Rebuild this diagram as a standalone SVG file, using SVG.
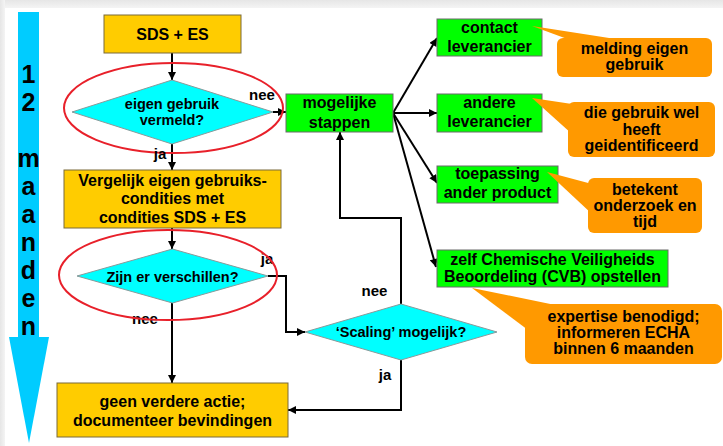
<svg xmlns="http://www.w3.org/2000/svg" width="723" height="446" viewBox="0 0 723 446">
<style>
text{font-family:"Liberation Sans",Arial,sans-serif;font-weight:bold;fill:#000;text-anchor:middle}
.y{fill:#FFCC00;stroke:#7a6a3a;stroke-width:1}
.g{fill:#00FF00;stroke:#6a6a6a;stroke-width:1}
.d{fill:#00FFFF;stroke:#8a9a9a;stroke-width:1}
.o{fill:#FF9900}
.ell{fill:none;stroke:#E8202A;stroke-width:2}
.c{fill:none;stroke:#000;stroke-width:2}
.t16{font-size:16px}
.t15{font-size:15px}
.t14{font-size:14.5px}
.lab{font-size:15px}
.mo{font-size:25px}
</style>
<defs>
<linearGradient id="topg" x1="0" y1="0" x2="0" y2="1"><stop offset="0" stop-color="#e6e6e6"/><stop offset="1" stop-color="#f4f4f4"/></linearGradient>
<linearGradient id="leftg" x1="0" y1="0" x2="1" y2="0"><stop offset="0" stop-color="#e6e6e6"/><stop offset="1" stop-color="#f4f4f4"/></linearGradient>
<marker id="ah" markerUnits="userSpaceOnUse" markerWidth="9" markerHeight="8" viewBox="0 0 10 10" refX="10" refY="5" orient="auto"><path d="M0,0 L10,5 L0,10 z" fill="#000"/></marker>
</defs>
<rect x="0" y="0" width="723" height="446" fill="#fff"/>
<rect x="0" y="0" width="723" height="8" fill="url(#topg)"/>
<rect x="0" y="0" width="5" height="446" fill="url(#leftg)"/>

<g id="time-arrow">
<rect x="18" y="12" width="21" height="326" fill="#00CCFF"/>
<polygon points="9,337 49,337 29,443" fill="#00CCFF"/>
<text class="mo" x="28.5" y="83">1</text>
<text class="mo" x="28.5" y="111">2</text>
<text class="mo" x="28.5" y="167">m</text>
<text class="mo" x="28.5" y="195">a</text>
<text class="mo" x="28.5" y="223">a</text>
<text class="mo" x="28.5" y="251">n</text>
<text class="mo" x="28.5" y="279">d</text>
<text class="mo" x="28.5" y="307">e</text>
<text class="mo" x="28.5" y="335">n</text>
</g>

<g id="connectors">
<path class="c" d="M172,53 V80" marker-end="url(#ah)"/>
<path class="c" d="M172,144 V170" marker-end="url(#ah)"/>
<path class="c" d="M172,228 V249" marker-end="url(#ah)"/>
<path class="c" d="M172,303 V383" marker-end="url(#ah)"/>
<path class="c" d="M268,276 H286 V332 H305" marker-end="url(#ah)"/>
<path class="c" d="M401,304 V218 H340 V132" marker-end="url(#ah)"/>
<path class="c" d="M401,360 V410 H288" marker-end="url(#ah)"/>
<path class="c" d="M273,112 H286" marker-end="url(#ah)"/>
<path class="c" d="M393,113 L437,38" marker-end="url(#ah)"/>
<path class="c" d="M393,113 L437,113" marker-end="url(#ah)"/>
<path class="c" d="M393,113 L437,183" marker-end="url(#ah)"/>
<path class="c" d="M393,113 L436,267" marker-end="url(#ah)"/>
</g>

<g id="sds">
<rect class="y" x="104" y="15" width="137" height="38"/>
<text class="t16" x="172.5" y="40">SDS + ES</text>
</g>

<g id="q1">
<polygon class="d" points="72,112 172,80 273,112 172,144"/>
<text class="t14" x="172" y="109">eigen gebruik</text>
<text class="t14" x="172" y="125">vermeld?</text>
<ellipse class="ell" cx="173.5" cy="108" rx="109.5" ry="45"/>
<text class="lab" x="262" y="100">nee</text>
<text class="lab" x="160" y="159">ja</text>
</g>

<g id="compare">
<rect class="y" x="64" y="170" width="217" height="58"/>
<text class="t16" x="172.5" y="186">Vergelijk eigen gebruiks-</text>
<text class="t16" x="172.5" y="204">condities met</text>
<text class="t16" x="172.5" y="223">condities SDS + ES</text>
</g>

<g id="q2">
<polygon class="d" points="77,276 172.5,249 268,276 172.5,303"/>
<text class="t14" x="172.5" y="282">Zijn er verschillen?</text>
<text class="lab" x="267" y="264">ja</text>
<text class="lab" x="145" y="324">nee</text>
<ellipse class="ell" cx="168" cy="275" rx="109" ry="45"/>
</g>

<g id="none">
<rect class="y" x="57" y="383" width="231" height="54"/>
<text class="t16" x="172.5" y="407">geen verdere actie;</text>
<text class="t16" x="172.5" y="426">documenteer bevindingen</text>
</g>

<g id="q3">
<polygon class="d" points="305,332 401,304 497,332 401,360"/>
<text class="t14" x="401" y="337">‘Scaling’ mogelijk?</text>
<text class="lab" x="374.5" y="296">nee</text>
<text class="lab" x="385" y="380">ja</text>
</g>

<g id="steps">
<rect class="g" x="286" y="94" width="107" height="38"/>
<text class="t16" x="339.5" y="108">mogelijke</text>
<text class="t16" x="339.5" y="128">stappen</text>
</g>

<g id="contact">
<rect class="g" x="437" y="19" width="105" height="37"/>
<text class="t16" x="489.5" y="33">contact</text>
<text class="t16" x="489.5" y="52">leverancier</text>
</g>

<g id="other">
<rect class="g" x="437" y="94" width="105" height="38"/>
<text class="t16" x="489.5" y="108">andere</text>
<text class="t16" x="489.5" y="127">leverancier</text>
</g>

<g id="product">
<rect class="g" x="437" y="166" width="121" height="37"/>
<text class="t16" x="497.5" y="179">toepassing</text>
<text class="t16" x="497.5" y="198">ander product</text>
</g>

<g id="cvb">
<rect class="g" x="437" y="250" width="231" height="37"/>
<text class="t16" x="552.5" y="265">zelf Chemische Veiligheids</text>
<text class="t16" x="552.5" y="282">Beoordeling (CVB) opstellen</text>
</g>

<g id="note1">
<polygon class="o" points="532,26 570,40 622,40"/>
<rect class="o" x="557" y="38" width="155" height="39" rx="6"/>
<text class="t16" x="634.5" y="54">melding eigen</text>
<text class="t16" x="634.5" y="70">gebruik</text>
</g>

<g id="note2">
<polygon class="o" points="532,98 572,104 572,134"/>
<rect class="o" x="568" y="102" width="147" height="55" rx="6"/>
<text class="t16" x="641.5" y="118">die gebruik wel</text>
<text class="t16" x="641.5" y="135">heeft</text>
<text class="t16" x="641.5" y="151">geidentificeerd</text>
</g>

<g id="note3">
<polygon class="o" points="547,172 592,184 592,214"/>
<rect class="o" x="588" y="178" width="114" height="55" rx="6"/>
<text class="t16" x="645" y="195">betekent</text>
<text class="t16" x="645" y="211">onderzoek en</text>
<text class="t16" x="645" y="227">tijd</text>
</g>

<g id="note4">
<polygon class="o" points="472,288 560,306 528,330"/>
<rect class="o" x="525" y="304" width="197" height="60" rx="7"/>
<text class="t16" x="623.5" y="322">expertise benodigd;</text>
<text class="t16" x="623.5" y="338">informeren ECHA</text>
<text class="t16" x="623.5" y="354">binnen 6 maanden</text>
</g>
</svg>
